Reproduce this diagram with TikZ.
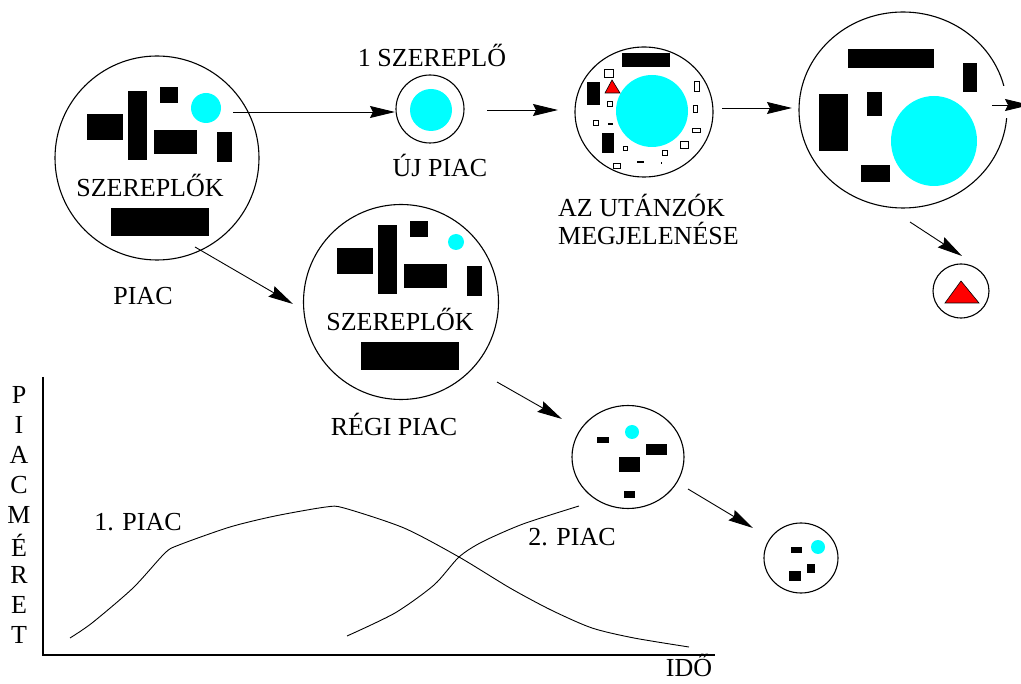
\documentclass[tikz,border=0pt]{standalone}
\usepackage{fontspec}
\setmainfont{Liberation Serif}
\usetikzlibrary{arrows.meta, positioning, shapes.geometric}

\definecolor{piaccyan}{RGB}{0,255,255}

\begin{document}
\begin{tikzpicture}[x=1pt, y=-1pt,
    market/.style={draw, ellipse, inner sep=0pt, line width=1.1pt},
    lbl/.style={font=\fontsize{26}{28}\selectfont, inner sep=0pt},
    arr/.style={-{Stealth[length=25pt, width=12pt, inset=3pt]}, line width=0.9pt},
    hollow/.style={draw, line width=0.9pt, fill=white},
    curve/.style={line width=0.9pt, smooth, tension=0.45}
]
\useasboundingbox (0,0) rectangle (1021,684);

% Markets
\node[market, minimum width=204pt, minimum height=204pt] (piac) at (157,158) {};
\node[market, minimum width=68pt, minimum height=68pt] (ujpiac) at (430,109) {};
\node[market, minimum width=138pt, minimum height=130pt] (utanzok) at (644,112) {};
\node[market, minimum width=208pt, minimum height=196pt] (nagypiac) at (903,110) {};
\node[market, minimum width=56pt, minimum height=54pt] (haromszog) at (961,291) {};
\node[market, minimum width=195pt, minimum height=195pt] (regipiac) at (401,302) {};
\node[market, minimum width=112pt, minimum height=103pt] (kispiac) at (628,457) {};
\node[market, minimum width=74pt, minimum height=70pt] (legkisebb) at (801,558) {};
\fill[white] (1000,86) rectangle (1012,118);

% Players of the old market, twice
\foreach \dx/\dy/\r/\n in {0/0/15/1, 250/134/8/2} {
  \begin{scope}[shift={(\dx,\dy)}]
    \fill (87,114) rectangle (123,140);
    \fill (128,91) rectangle (147,160);
    \fill (160,87) rectangle (178,103);
    \fill (154,130) rectangle (197,154);
    \fill (217,132) rectangle (232,162);
    \fill (111,208) rectangle (209,236);
    \fill[piaccyan] (206,108) circle[radius=\r];
    \node[lbl] (szereplok\n) at (150,185) {SZEREPLŐK};
  \end{scope}
}

% New market
\fill[piaccyan] (431,110) circle[radius=21];

% Imitators
\fill (622,53) rectangle (670,67);
\fill (587,82) rectangle (600,105);
\fill (602,133) rectangle (614,153);
\fill (608,123) rectangle (613,125);
\fill (637,161) rectangle (644,163);
\fill (661,162) rectangle (662,164);
\foreach \xa/\ya/\xb/\yb in {604/69/613/77, 607/101/612/106, 593/120/598/125,
    623/146/627/150, 613/163/620/168, 662/150/667/155, 680/141/688/148,
    694/81/699/91, 693/105/697/112, 692/128/700/132}
  \draw[hollow] (\xa,\ya) rectangle (\xb,\yb);
\fill[piaccyan] (652,111) circle[radius=36];
\filldraw[fill=red, draw=black, line width=0.6pt] (612,80) -- (605,93) -- (620,93) -- cycle;

% Grown market
\fill (848,49) rectangle (934,68);
\fill (963,63) rectangle (977,92);
\fill (819,94) rectangle (848,151);
\fill (867,92) rectangle (882,116);
\fill (861,165) rectangle (890,182);
\fill[piaccyan] (934,141) ellipse[x radius=43, y radius=45];

% Lone imitator
\filldraw[fill=red, draw=black, line width=0.6pt] (961,281) -- (945,303) -- (979,303) -- cycle;

% Shrinking markets
\fill (597,437) rectangle (609,443);
\fill (646,444) rectangle (667,455);
\fill (619,457) rectangle (640,472);
\fill (624,491) rectangle (635,498);
\fill[piaccyan] (632,432) circle[radius=7];
\fill (791,547) rectangle (802,553);
\fill (807,564) rectangle (815,573);
\fill (789,571) rectangle (801,581);
\fill[piaccyan] (818,547) circle[radius=7];

% Labels
\node[lbl] (piaclbl) at (143,296) {PIAC};
\node[lbl] (egyszer) at (432,55) {1 SZEREPLŐ};
\node[lbl] (ujlbl) at (440,165) {ÚJ PIAC};
\node[lbl, anchor=west, align=left] (utanzoklbl) at (558,219) {AZ UTÁNZÓK\\MEGJELENÉSE};
\node[lbl] (regilbl) at (394,424) {RÉGI PIAC};

% Arrows
\coordinate (a1s) at (233,112); \coordinate (a1e) at (395,112);
\coordinate (a2s) at (487,110); \coordinate (a2e) at (558,110);
\coordinate (a3s) at (722,108); \coordinate (a3e) at (792,108);
\coordinate (a4s) at (992,105); \coordinate (a4e) at (1030,105);
\coordinate (a5s) at (910,222); \coordinate (a5e) at (962,256);
\coordinate (a6s) at (195,247); \coordinate (a6e) at (293,304);
\coordinate (a7s) at (497,382); \coordinate (a7e) at (562,419);
\coordinate (a8s) at (688,489); \coordinate (a8e) at (753,528);
\foreach \i in {1,...,8}
  \draw[arr] (a\i s) -- (a\i e);

% Market size over time
\draw[line width=1.1pt] (43,377) -- (43,655) -- (715,655);
\foreach \c [count=\i from 0] in {P,I,A,C,M,É,R,E,T}
  \node[lbl] (meret\i) at (19,{395+30*\i}) {\c};
\node[lbl, anchor=south] (ido) at (689,677) {IDŐ};
\draw[curve] plot coordinates {(70,638) (92,623) (133,588) (165,553) (179,545)
    (230,527) (275,516) (326,507) (344,508) (404,528) (459,557) (510,588)
    (551,610) (592,628) (634,638) (689,647)};
\draw[curve] plot coordinates {(347,636) (395,613) (434,585) (459,557)
    (482,542) (523,524) (579,506)};
\node[lbl] (elsopiac) at (138,522) {1. PIAC};
\node[lbl] (masodpiac) at (572,537) {2. PIAC};

\end{tikzpicture}
\end{document}
